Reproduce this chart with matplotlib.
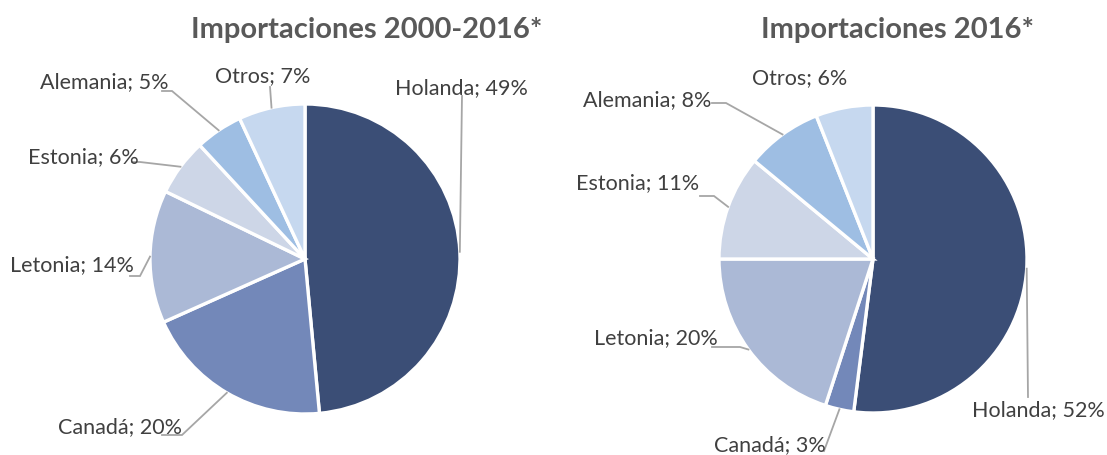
import numpy as np
import matplotlib
matplotlib.use('Agg')
import matplotlib.pyplot as plt

plt.rcParams['font.family'] = ['Lato', 'DejaVu Sans']

# data
paises = ['Holanda', 'Canadá', 'Letonia', 'Estonia', 'Alemania', 'Otros']
colores = ['#3B4E76', '#7388B9', '#ABB9D6', '#CDD6E7', '#9EBEE3', '#C6D8EF']
vals_2000_2016 = [49, 20, 14, 6, 5, 7]
vals_2016 = [52, 3, 20, 11, 8, 6]
titulos = ['Importaciones 2000-2016*', 'Importaciones 2016*']

W, H = 1107, 456
fig = plt.figure(figsize=(W / 100, H / 100), dpi=100)
ax = fig.add_axes([0, 0, 1, 1])

# layout of each pie: center, radius, title pos,
# labels: (x, y, stub start x or None, elbow point or None)
pies = [
    dict(vals=vals_2000_2016, c=(305, 260), r=155, title=(367, 30),
         labels=[(395, 88, None, (462, 97)),
                 (58, 427, 162, (182, 436)),
                 (10, 265, 130, (140, 277)),
                 (28, 157, 132, (140, 163)),
                 (40, 82, 162, (172, 92)),
                 (215, 76, None, (270, 88))]),
    dict(vals=vals_2016, c=(873, 260), r=154, title=(897, 30),
         labels=[(972, 410, None, (1028, 398)),
                 (714, 445, None, (824, 452)),
                 (594, 338, 712, (740, 348)),
                 (576, 183, 700, (714, 197)),
                 (583, 100, 712, (726, 104)),
                 (752, 78, None, None)]),
]

for k, p in enumerate(pies):
    cx, cy = p['c']
    r = p['r']
    vals = np.array(p['vals'], dtype=float)
    # y axis is inverted, so counterclock here looks clockwise
    ax.pie(vals, colors=colores, startangle=-90, counterclock=True,
           center=(cx, cy), radius=r, frame=True,
           wedgeprops=dict(edgecolor='white', linewidth=2.4))
    frac = vals / vals.sum()
    ang0 = 90.0
    for i, nombre in enumerate(paises):
        mid = ang0 - 360 * frac[i] / 2
        ang0 -= 360 * frac[i]
        px = cx + r * np.cos(np.radians(mid))
        py = cy - r * np.sin(np.radians(mid))
        tx, ty, stub, elbow = p['labels'][i]
        ax.text(tx, ty, f'{nombre}; {p["vals"][i]}%', ha='left', va='center',
                fontsize=15.5, color='#404040')
        if elbow is not None:
            xs = [px, elbow[0]]
            ys = [py, elbow[1]]
            if stub is not None:
                xs.append(stub)
                ys.append(elbow[1])
            ax.plot(xs, ys, color='#A6A6A6', lw=1.3, solid_joinstyle='miter')
    ax.text(p['title'][0], p['title'][1], titulos[k], ha='center',
            va='center', fontsize=21, fontweight='bold', color='#595959')

ax.set_xlim(0, W)
ax.set_ylim(H, 0)
ax.set_aspect('equal')
ax.axis('off')
fig.savefig('out.png', dpi=100)
